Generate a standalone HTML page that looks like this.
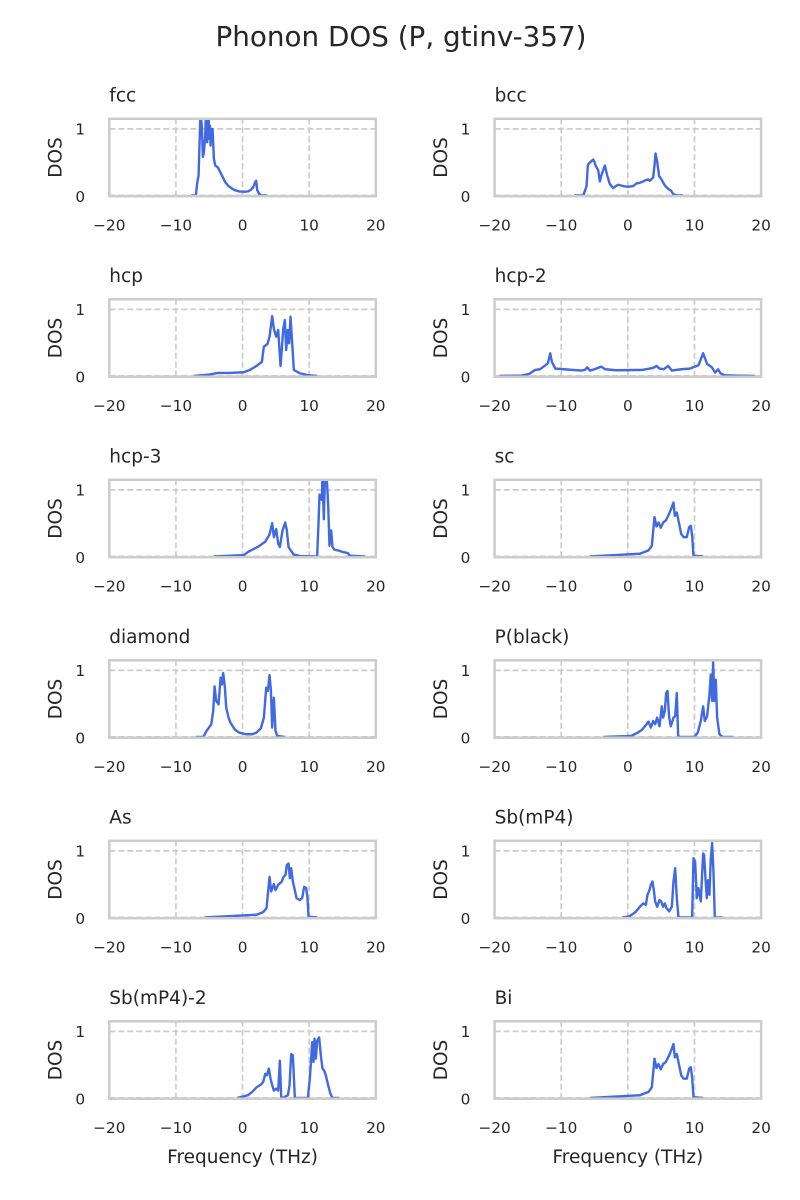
<!DOCTYPE html>
<html><head><meta charset="utf-8"><style>
html,body{margin:0;padding:0;background:#fff;}
svg{display:block;}
text{font-family:"DejaVu Sans","Liberation Sans",sans-serif;fill:#262626;}
.tk{font-size:15.3px;}
.xt{text-anchor:middle;}
.yt{text-anchor:end;}
.ti{font-size:18.5px;}
.yl{font-size:18.5px;text-anchor:middle;}
.xl{font-size:18.5px;text-anchor:middle;}
.cv{fill:none;stroke:#4169e1;stroke-width:2.4;stroke-linejoin:round;vector-effect:non-scaling-stroke;}
.gr{stroke:#cccccc;stroke-width:1.7;stroke-dasharray:6 3;fill:none;}
.sp{fill:none;stroke:#cccccc;stroke-width:2.5;}
</style></head><body>
<svg width="800" height="1200" viewBox="0 0 800 1200" xmlns="http://www.w3.org/2000/svg">
<defs>
<clipPath id="clip" clipPathUnits="userSpaceOnUse"><rect x="-133.25" y="-76.6" width="266.5" height="78"/></clipPath>
<g id="frame">
<line class="gr" x1="-66.625" y1="0.8" x2="-66.625" y2="-76.6"/>
<line class="gr" x1="0" y1="0.8" x2="0" y2="-76.6"/>
<line class="gr" x1="66.625" y1="0.8" x2="66.625" y2="-76.6"/>
<line class="gr" x1="-133.25" y1="0" x2="133.25" y2="0"/>
<line class="gr" x1="-133.25" y1="-66.5" x2="133.25" y2="-66.5"/>
</g>
<rect id="spine" class="sp" x="-133.25" y="-76.6" width="266.5" height="77.4"/>
</defs>
<rect width="800" height="1200" fill="#fff"/>
<text x="401" y="46" style="font-size:27.8px;text-anchor:middle">Phonon DOS (P, gtinv-357)</text>

<!-- Row 0 left: fcc -->
<g transform="translate(242.55,195.4)">
<use href="#frame"/>
<g clip-path="url(#clip)"><polyline class="cv" transform="scale(6.6625,-66.5)" points="-7.7,0 -7.0,0 -6.9,0.1 -6.8,0.19 -6.6,0.3 -6.45,0.8 -6.3,1.3 -6.1,1.0 -5.95,0.58 -5.8,0.65 -5.6,0.9 -5.5,1.3 -5.4,1.1 -5.3,0.8 -5.2,1.0 -5.1,1.25 -5.0,0.85 -4.9,1.05 -4.8,0.75 -4.7,1.0 -4.6,0.9 -4.5,1.0 -4.3,0.55 -4.1,0.45 -3.7,0.42 -3.3,0.34 -3.0,0.28 -2.6,0.2 -2.2,0.15 -1.7,0.11 -1.2,0.08 -0.5,0.06 0.3,0.055 0.8,0.06 1.2,0.08 1.6,0.12 1.9,0.2 2.05,0.22 2.2,0.08 2.5,0.02 2.8,0 3.7,0"/></g>
<use href="#spine"/>
<text class="ti" x="-133.25" y="-93.7">fcc</text>
<text class="yl" transform="translate(-181,-37.9) rotate(-90)">DOS</text>
<text class="tk yt" x="-157.5" y="-60.9">1</text><text class="tk yt" x="-157.5" y="6.4">0</text>
<text class="tk xt" x="-133.25" y="35.3">−20</text><text class="tk xt" x="-66.625" y="35.3">−10</text><text class="tk xt" x="0" y="35.3">0</text><text class="tk xt" x="66.625" y="35.3">10</text><text class="tk xt" x="133.25" y="35.3">20</text>
</g>

<!-- Row 0 right: bcc -->
<g transform="translate(627.85,195.4)">
<use href="#frame"/>
<g clip-path="url(#clip)"><polyline class="cv" transform="scale(6.6625,-66.5)" points="-8.05,0 -6.7,0 -6.4,0.08 -6.2,0.14 -6.0,0.46 -5.65,0.5 -5.4,0.52 -5.2,0.54 -5.0,0.5 -4.85,0.45 -4.45,0.38 -4.2,0.21 -3.95,0.31 -3.7,0.38 -3.45,0.45 -3.1,0.3 -2.7,0.17 -2.2,0.11 -1.8,0.14 -1.45,0.16 -0.7,0.14 0,0.13 0.8,0.14 1.3,0.18 1.8,0.19 2.3,0.21 2.7,0.23 3.05,0.24 3.3,0.22 3.6,0.25 3.8,0.27 4.0,0.45 4.15,0.63 4.4,0.51 4.7,0.29 5.05,0.24 5.55,0.15 6.05,0.1 6.5,0.07 6.8,0.02 7.3,0 8.3,0"/></g>
<use href="#spine"/>
<text class="ti" x="-133.25" y="-93.7">bcc</text>
<text class="yl" transform="translate(-181,-37.9) rotate(-90)">DOS</text>
<text class="tk yt" x="-157.5" y="-60.9">1</text><text class="tk yt" x="-157.5" y="6.4">0</text>
<text class="tk xt" x="-133.25" y="35.3">−20</text><text class="tk xt" x="-66.625" y="35.3">−10</text><text class="tk xt" x="0" y="35.3">0</text><text class="tk xt" x="66.625" y="35.3">10</text><text class="tk xt" x="133.25" y="35.3">20</text>
</g>

<!-- Row 1 left: hcp -->
<g transform="translate(242.55,375.9)">
<use href="#frame"/>
<g clip-path="url(#clip)"><polyline class="cv" transform="scale(6.6625,-66.5)" points="-7.3,0 -5,0.02 -3.7,0.045 -2,0.045 0.15,0.055 1.1,0.09 2.1,0.15 2.9,0.21 3.2,0.44 3.75,0.48 4.05,0.59 4.45,0.9 4.7,0.71 5.05,0.59 5.35,0.69 5.7,0.15 5.9,0.41 6.1,0.7 6.35,0.84 6.55,0.39 6.8,0.69 7.0,0.49 7.2,0.89 7.45,0.49 7.7,0.09 8.6,0.04 9.9,0.01 11.2,0"/></g>
<use href="#spine"/>
<text class="ti" x="-133.25" y="-93.7">hcp</text>
<text class="yl" transform="translate(-181,-37.9) rotate(-90)">DOS</text>
<text class="tk yt" x="-157.5" y="-60.9">1</text><text class="tk yt" x="-157.5" y="6.4">0</text>
<text class="tk xt" x="-133.25" y="35.3">−20</text><text class="tk xt" x="-66.625" y="35.3">−10</text><text class="tk xt" x="0" y="35.3">0</text><text class="tk xt" x="66.625" y="35.3">10</text><text class="tk xt" x="133.25" y="35.3">20</text>
</g>

<!-- Row 1 right: hcp-2 -->
<g transform="translate(627.85,375.9)">
<use href="#frame"/>
<g clip-path="url(#clip)"><polyline class="cv" transform="scale(6.6625,-66.5)" points="-19.3,0 -16,0.005 -14.8,0.03 -13.9,0.09 -13.2,0.1 -12.5,0.15 -12.0,0.19 -11.65,0.34 -11.4,0.21 -10.9,0.11 -9.6,0.1 -7.0,0.08 -6.45,0.09 -6.1,0.13 -5.7,0.08 -5.0,0.1 -4.0,0.14 -3.4,0.1 -1.75,0.085 2.15,0.09 3.8,0.12 4.3,0.15 4.75,0.11 5.4,0.1 6.05,0.15 6.6,0.08 8.0,0.1 9.3,0.11 10.6,0.16 11.3,0.34 11.6,0.26 11.9,0.18 12.6,0.13 13.1,0.05 13.55,0.1 13.9,0.04 14.5,0.01 16,0.005 19.1,0"/></g>
<use href="#spine"/>
<text class="ti" x="-133.25" y="-93.7">hcp-2</text>
<text class="yl" transform="translate(-181,-37.9) rotate(-90)">DOS</text>
<text class="tk yt" x="-157.5" y="-60.9">1</text><text class="tk yt" x="-157.5" y="6.4">0</text>
<text class="tk xt" x="-133.25" y="35.3">−20</text><text class="tk xt" x="-66.625" y="35.3">−10</text><text class="tk xt" x="0" y="35.3">0</text><text class="tk xt" x="66.625" y="35.3">10</text><text class="tk xt" x="133.25" y="35.3">20</text>
</g>

<!-- Row 2 left: hcp-3 -->
<g transform="translate(242.55,556.4)">
<use href="#frame"/>
<g clip-path="url(#clip)"><polyline class="cv" transform="scale(6.6625,-66.5)" points="-4.3,0 0.2,0.02 0.8,0.065 1.45,0.1 2.4,0.15 3.4,0.22 4.05,0.33 4.45,0.5 4.7,0.29 5.05,0.41 5.35,0.19 5.6,0.14 6.0,0.39 6.4,0.51 6.65,0.39 6.9,0.14 7.65,0.03 8.6,0.005 11.2,0 11.4,0.5 11.55,0.93 11.7,0.9 11.9,0.85 12.0,1.25 12.2,0.56 12.4,1.3 12.6,1.25 12.85,0.78 13.05,0.16 13.3,0.39 13.5,0.14 13.8,0.1 14.35,0.09 15.1,0.065 15.8,0.05 16.1,0.01 18.4,0"/></g>
<use href="#spine"/>
<text class="ti" x="-133.25" y="-93.7">hcp-3</text>
<text class="yl" transform="translate(-181,-37.9) rotate(-90)">DOS</text>
<text class="tk yt" x="-157.5" y="-60.9">1</text><text class="tk yt" x="-157.5" y="6.4">0</text>
<text class="tk xt" x="-133.25" y="35.3">−20</text><text class="tk xt" x="-66.625" y="35.3">−10</text><text class="tk xt" x="0" y="35.3">0</text><text class="tk xt" x="66.625" y="35.3">10</text><text class="tk xt" x="133.25" y="35.3">20</text>
</g>

<!-- Row 2 right: sc -->
<g transform="translate(627.85,556.4)">
<use href="#frame"/>
<g clip-path="url(#clip)"><polyline class="cv" transform="scale(6.6625,-66.5)" points="-5.7,0 1.8,0.04 3.1,0.09 3.6,0.16 4.0,0.59 4.3,0.45 4.6,0.51 4.95,0.43 5.3,0.51 5.7,0.54 6.2,0.64 6.6,0.74 6.85,0.81 7.05,0.61 7.35,0.66 7.7,0.49 8.0,0.34 8.35,0.29 8.85,0.29 9.2,0.44 9.45,0.46 9.65,0.31 9.85,0.01 11.3,0"/></g>
<use href="#spine"/>
<text class="ti" x="-133.25" y="-93.7">sc</text>
<text class="yl" transform="translate(-181,-37.9) rotate(-90)">DOS</text>
<text class="tk yt" x="-157.5" y="-60.9">1</text><text class="tk yt" x="-157.5" y="6.4">0</text>
<text class="tk xt" x="-133.25" y="35.3">−20</text><text class="tk xt" x="-66.625" y="35.3">−10</text><text class="tk xt" x="0" y="35.3">0</text><text class="tk xt" x="66.625" y="35.3">10</text><text class="tk xt" x="133.25" y="35.3">20</text>
</g>

<!-- Row 3 left: diamond -->
<g transform="translate(242.55,736.9)">
<use href="#frame"/>
<g clip-path="url(#clip)"><polyline class="cv" transform="scale(6.6625,-66.5)" points="-7.0,0 -5.9,0 -5.4,0.09 -4.7,0.19 -4.4,0.39 -4.2,0.76 -3.95,0.54 -3.6,0.49 -3.3,0.89 -3.1,0.79 -2.9,0.96 -2.65,0.74 -2.45,0.44 -2.1,0.29 -1.8,0.21 -1.15,0.11 -0.5,0.065 0.5,0.04 1.45,0.04 2.1,0.065 2.75,0.13 3.2,0.29 3.55,0.74 3.8,0.69 4.05,0.93 4.25,0.71 4.45,0.14 4.7,0.59 4.95,0.09 5.2,0.015 6.35,0"/></g>
<use href="#spine"/>
<text class="ti" x="-133.25" y="-93.7">diamond</text>
<text class="yl" transform="translate(-181,-37.9) rotate(-90)">DOS</text>
<text class="tk yt" x="-157.5" y="-60.9">1</text><text class="tk yt" x="-157.5" y="6.4">0</text>
<text class="tk xt" x="-133.25" y="35.3">−20</text><text class="tk xt" x="-66.625" y="35.3">−10</text><text class="tk xt" x="0" y="35.3">0</text><text class="tk xt" x="66.625" y="35.3">10</text><text class="tk xt" x="133.25" y="35.3">20</text>
</g>

<!-- Row 3 right: P(black) -->
<g transform="translate(627.85,736.9)">
<use href="#frame"/>
<g clip-path="url(#clip)"><polyline class="cv" transform="scale(6.6625,-66.5)" points="-3.7,0 0.5,0.015 1.5,0.065 2.15,0.11 2.8,0.19 3.1,0.23 3.45,0.14 3.8,0.24 4.1,0.19 4.4,0.29 4.75,0.16 5.1,0.46 5.3,0.29 5.55,0.39 5.75,0.66 5.95,0.69 6.2,0.29 6.45,0.16 6.85,0.29 7.1,0.31 7.35,0.66 7.55,0.015 7.7,0 10.0,0 10.5,0.065 10.95,0.24 11.3,0.46 11.55,0.24 11.9,0.31 12.25,0.64 12.45,0.94 12.65,0.54 12.8,1.13 13.0,0.54 13.2,0.86 13.4,0.29 13.75,0.04 14.2,0 15.8,0"/></g>
<use href="#spine"/>
<text class="ti" x="-133.25" y="-93.7">P(black)</text>
<text class="yl" transform="translate(-181,-37.9) rotate(-90)">DOS</text>
<text class="tk yt" x="-157.5" y="-60.9">1</text><text class="tk yt" x="-157.5" y="6.4">0</text>
<text class="tk xt" x="-133.25" y="35.3">−20</text><text class="tk xt" x="-66.625" y="35.3">−10</text><text class="tk xt" x="0" y="35.3">0</text><text class="tk xt" x="66.625" y="35.3">10</text><text class="tk xt" x="133.25" y="35.3">20</text>
</g>

<!-- Row 4 left: As -->
<g transform="translate(242.55,917.4)">
<use href="#frame"/>
<g clip-path="url(#clip)"><polyline class="cv" transform="scale(6.6625,-66.5)" points="-5.7,0 2.1,0.04 3.1,0.08 3.6,0.14 4.05,0.61 4.3,0.39 4.7,0.5 4.95,0.41 5.35,0.49 5.9,0.54 6.15,0.61 6.45,0.64 6.65,0.79 6.9,0.81 7.1,0.59 7.3,0.74 7.55,0.54 7.85,0.41 8.1,0.29 8.6,0.26 8.95,0.29 9.25,0.46 9.55,0.44 9.75,0.29 9.9,0.01 11.2,0"/></g>
<use href="#spine"/>
<text class="ti" x="-133.25" y="-93.7">As</text>
<text class="yl" transform="translate(-181,-37.9) rotate(-90)">DOS</text>
<text class="tk yt" x="-157.5" y="-60.9">1</text><text class="tk yt" x="-157.5" y="6.4">0</text>
<text class="tk xt" x="-133.25" y="35.3">−20</text><text class="tk xt" x="-66.625" y="35.3">−10</text><text class="tk xt" x="0" y="35.3">0</text><text class="tk xt" x="66.625" y="35.3">10</text><text class="tk xt" x="133.25" y="35.3">20</text>
</g>

<!-- Row 4 right: Sb(mP4) -->
<g transform="translate(627.85,917.4)">
<use href="#frame"/>
<g clip-path="url(#clip)"><polyline class="cv" transform="scale(6.6625,-66.5)" points="-0.8,0 0.2,0.015 1.15,0.08 1.8,0.16 2.3,0.21 2.7,0.19 2.95,0.34 3.25,0.41 3.45,0.49 3.7,0.54 3.9,0.41 4.1,0.24 4.4,0.16 4.75,0.26 5.0,0.24 5.3,0.16 5.55,0.21 5.8,0.14 6.2,0.09 6.6,0.16 6.85,0.54 7.1,0.74 7.35,0.29 7.6,0 9.65,0 9.85,0.89 10.1,0.84 10.35,0.29 10.6,0.44 10.95,0.24 11.3,0.96 11.45,0.94 11.65,0.59 11.85,0.29 12.05,0.56 12.25,0.34 12.45,0.89 12.65,1.12 12.85,0.69 13.05,0 14.2,0"/></g>
<use href="#spine"/>
<text class="ti" x="-133.25" y="-93.7">Sb(mP4)</text>
<text class="yl" transform="translate(-181,-37.9) rotate(-90)">DOS</text>
<text class="tk yt" x="-157.5" y="-60.9">1</text><text class="tk yt" x="-157.5" y="6.4">0</text>
<text class="tk xt" x="-133.25" y="35.3">−20</text><text class="tk xt" x="-66.625" y="35.3">−10</text><text class="tk xt" x="0" y="35.3">0</text><text class="tk xt" x="66.625" y="35.3">10</text><text class="tk xt" x="133.25" y="35.3">20</text>
</g>

<!-- Row 5 left: Sb(mP4)-2 -->
<g transform="translate(242.55,1097.9)">
<use href="#frame"/>
<g clip-path="url(#clip)"><polyline class="cv" transform="scale(6.6625,-66.5)" points="-0.8,0 0.8,0.04 1.45,0.09 2.1,0.16 2.75,0.2 3.1,0.24 3.4,0.36 3.65,0.34 3.95,0.44 4.2,0.29 4.45,0.19 4.7,0.11 5.05,0.14 5.35,0.11 5.6,0.56 5.8,0.015 6.0,0 6.8,0.04 7.05,0.19 7.3,0.66 7.55,0.64 7.85,0 9.8,0 10.1,0.29 10.3,0.59 10.45,0.84 10.65,0.54 10.8,0.89 11.0,0.59 11.2,0.86 11.5,0.91 11.75,0.64 12.0,0.44 12.25,0.41 12.5,0.34 12.85,0.19 13.2,0.06 13.5,0 14.5,0"/></g>
<use href="#spine"/>
<text class="ti" x="-133.25" y="-93.7">Sb(mP4)-2</text>
<text class="yl" transform="translate(-181,-37.9) rotate(-90)">DOS</text>
<text class="tk yt" x="-157.5" y="-60.9">1</text><text class="tk yt" x="-157.5" y="6.4">0</text>
<text class="tk xt" x="-133.25" y="35.3">−20</text><text class="tk xt" x="-66.625" y="35.3">−10</text><text class="tk xt" x="0" y="35.3">0</text><text class="tk xt" x="66.625" y="35.3">10</text><text class="tk xt" x="133.25" y="35.3">20</text>
<text class="xl" x="0" y="65.1">Frequency (THz)</text>
</g>

<!-- Row 5 right: Bi -->
<g transform="translate(627.85,1097.9)">
<use href="#frame"/>
<g clip-path="url(#clip)"><polyline class="cv" transform="scale(6.6625,-66.5)" points="-5.7,0 1.8,0.04 3.1,0.09 3.6,0.16 4.0,0.59 4.3,0.45 4.6,0.51 4.95,0.43 5.3,0.51 5.7,0.54 6.2,0.64 6.6,0.74 6.85,0.81 7.05,0.61 7.35,0.66 7.7,0.49 8.0,0.34 8.35,0.29 8.85,0.29 9.2,0.44 9.45,0.46 9.65,0.31 9.85,0.01 11.3,0"/></g>
<use href="#spine"/>
<text class="ti" x="-133.25" y="-93.7">Bi</text>
<text class="yl" transform="translate(-181,-37.9) rotate(-90)">DOS</text>
<text class="tk yt" x="-157.5" y="-60.9">1</text><text class="tk yt" x="-157.5" y="6.4">0</text>
<text class="tk xt" x="-133.25" y="35.3">−20</text><text class="tk xt" x="-66.625" y="35.3">−10</text><text class="tk xt" x="0" y="35.3">0</text><text class="tk xt" x="66.625" y="35.3">10</text><text class="tk xt" x="133.25" y="35.3">20</text>
<text class="xl" x="0" y="65.1">Frequency (THz)</text>
</g>
</svg>
</body></html>
